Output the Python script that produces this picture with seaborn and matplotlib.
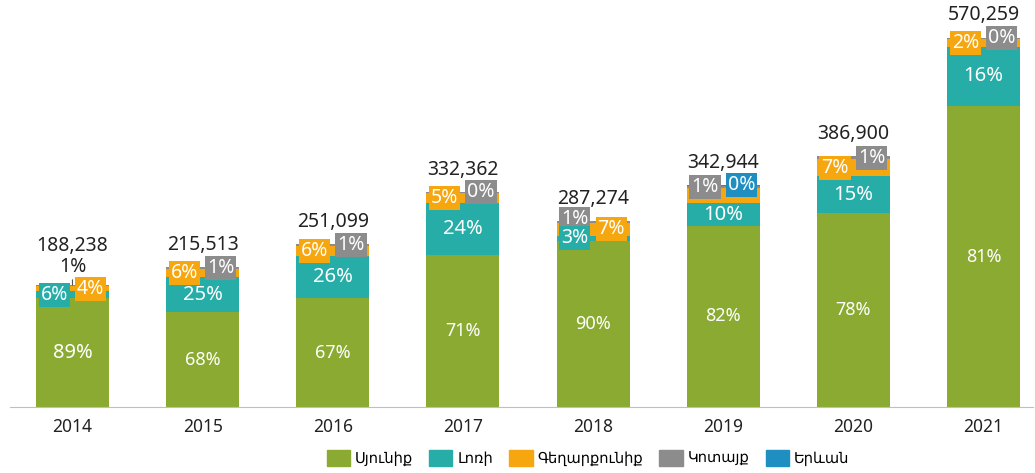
import seaborn as sns
import matplotlib.pyplot as plt
import pandas as pd
import numpy as np

# data
years = ['2014', '2015', '2016', '2017', '2018', '2019', '2020', '2021']
totals = [188238, 215513, 251099, 332362, 287274, 342944, 386900, 570259]
regions = ['Սյունիք', 'Լոռի', 'Գեղարքունիք', 'Կոտայք', 'Երևան']
# shares in percent per region (small ones)
syunik = [89, 68, 67, 71, 90, 82, 78, 81]
lori = [6, 25, 26, 24, 3, 10, 15, 16]
gegharkunik = [4, 6, 6, 5, 7, 7, 7, 2]
kotayk = [1, 1, 1, 0.4, 1, 1, 1, 0.4]
yerevan = [0, 0, 0, 0, 0, 0.4, 0, 0]

colors = ['#8AAA32', '#27ADA8', '#F6A60E', '#8C8C8C', '#1E8FC0']

# where each label goes: 'in' centred, 'L'/'R' boxed at the bar top, 'up' above
place = [
    ['in'] * 8,
    ['L', 'in', 'in', 'in', 'L', 'in', 'in', 'in'],
    ['R', 'L', 'L', 'L', 'R', None, 'L', 'L'],
    ['up', 'R', 'R', 'R', 'L', 'L', 'R', 'R'],
    [None, None, None, None, None, 'R', None, None],
]

plt.rcParams['font.family'] = ['Noto Sans', 'DejaVu Sans']

shares = np.array([syunik, lori, gegharkunik, kotayk, yerevan], dtype=float)
heights = shares / shares.sum(axis=0) * np.array(totals)
tops = np.cumsum(heights, axis=0)
bottoms = tops - heights

df = pd.DataFrame({'year': years})
for k, r in enumerate(regions):
    df[r] = tops[k]

fig = plt.figure(figsize=(10.35, 4.73), dpi=100)
ax = fig.add_axes([10 / 1035, 66 / 473, 1023 / 1035, 407 / 473])

# overlapping cumulative bars, top layer first
for k in range(len(regions) - 1, -1, -1):
    sns.barplot(data=df, x='year', y=regions[k], color=colors[k], saturation=1,
                width=0.56, errorbar=None, ax=ax, label=regions[k], legend=False)

ymax = 628400
ax.set_xlim(-0.48, 7.38)
ax.set_ylim(0, ymax)
ax.set_xlabel('')
ax.set_ylabel('')
ax.set_yticks([])
for s in ['left', 'right', 'top']:
    ax.spines[s].set_visible(False)
ax.spines['bottom'].set_color('#BFBFBF')
ax.tick_params(axis='x', length=0, pad=8, labelsize=12.5, labelcolor='#222222')

px = ymax / 407  # data units per pixel
box_gap = 19 * px

# segment labels
for i in range(len(years)):
    last = {'L': None, 'R': None}
    for k in range(len(regions)):
        p = place[k][i]
        if p is None:
            continue
        txt = f'{shares[k, i]:.0f}%'
        yc = (bottoms[k, i] + tops[k, i]) / 2
        if p == 'in':
            fs = 13 if (k == 0 and i > 0) else 14.5
            ax.text(i, yc, txt, ha='center', va='center', color='white', fontsize=fs)
        elif p in ('L', 'R'):
            if last[p] is not None and yc - last[p] < box_gap:
                yc = last[p] + box_gap
            last[p] = yc
            dx = -0.14 if p == 'L' else 0.14
            ax.text(i + dx, yc, txt, ha='center', va='center', color='white', fontsize=14,
                    zorder=5 + (5 - k),
                    bbox=dict(boxstyle='square,pad=0.1', fc=colors[k], ec='none'))
        elif p == 'up':
            ax.annotate(txt, (i, totals[i]), xytext=(0, 13), textcoords='offset points',
                        ha='center', va='center', fontsize=14, color='#222222',
                        arrowprops=dict(arrowstyle='-', color='#555555', lw=0.8,
                                        shrinkA=5, shrinkB=0))

# totals above bars
for i, t in enumerate(totals):
    off = 28 if place[3][i] == 'up' else 16
    ax.annotate(f'{t:,}', (i, t), xytext=(0, off), textcoords='offset points',
                ha='center', va='center', fontsize=14, color='#222222')

handles = [plt.Rectangle((0, 0), 1, 1, color=c) for c in colors]
fig.legend(handles, regions, loc='center', bbox_to_anchor=(588 / 1035, 1 - 458 / 473),
           ncol=5, frameon=False, prop={'family': ['DejaVu Sans Condensed', 'DejaVu Sans'], 'size': 10.5},
           handlelength=1.6, handleheight=1.3, handletextpad=0.35, columnspacing=1.1)

fig.savefig('out.png', dpi=100)
